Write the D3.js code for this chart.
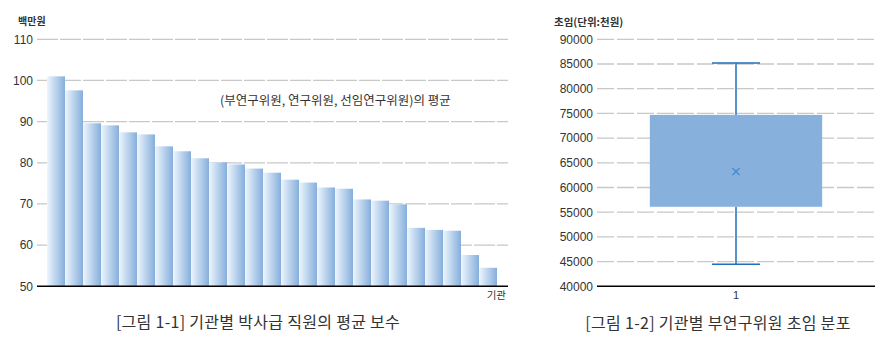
<!DOCTYPE html>
<html><head><meta charset="utf-8">
<script src="https://cdn.jsdelivr.net/npm/d3@7"></script>
<style>
html,body{margin:0;padding:0;background:#fff;}
svg{display:block;}
text{font-family:"Liberation Sans","Noto Sans CJK KR",Arial,sans-serif;fill:#333;}
.kr{font-family:"Noto Sans CJK KR","Liberation Sans",sans-serif;}
</style></head>
<body>
<svg id="c" width="890" height="349"></svg>
<script>
// ---- Data: Figure 1-1 (average pay by institution, million won)
const institutions = d3.range(1, 26).map(i => "기관" + i);
const avgPay = [101.0, 97.6, 89.6, 89.1, 87.4, 86.9, 84.0, 82.8, 81.1, 80.1, 79.6, 78.6, 77.6,
                75.9, 75.2, 74.0, 73.7, 71.1, 70.8, 69.9, 64.2, 63.7, 63.5, 57.6, 54.5];
const leftTicks = [50, 60, 70, 80, 90, 100, 110];

// ---- Data: Figure 1-2 (starting salary distribution, thousand won)
const boxCategories = ["1"];
const boxMin = [44450], boxQ1 = [56100], boxQ3 = [74700], boxMax = [85200], boxMean = [63200];
const rightTicks = [40000, 45000, 50000, 55000, 60000, 65000, 70000, 75000, 80000, 85000, 90000];

const svg = d3.select("#c");
const defs = svg.append("defs");
const grad = defs.append("linearGradient").attr("id", "barGrad")
  .attr("x1", "0%").attr("x2", "100%").attr("y1", "0%").attr("y2", "0%");
grad.append("stop").attr("offset", "0%").attr("stop-color", "#eef6fd");
grad.append("stop").attr("offset", "100%").attr("stop-color", "#86aedc");

// ===== Left chart =====
const x1 = d3.scaleBand().domain(institutions).range([47, 497]).padding(0);
const y1 = d3.scaleLinear().domain([50, 110]).range([286.3, 39.3]);

const gL = svg.append("g");
gL.selectAll("line.grid").data(leftTicks.filter(t => t > 50)).join("line")
  .attr("x1", 37).attr("x2", 508)
  .attr("y1", d => y1(d)).attr("y2", d => y1(d))
  .attr("stroke", "#c8c8c8").attr("stroke-width", 1.3).attr("stroke-dasharray", "21,2");
const yAxisL = d3.axisLeft(y1).tickValues(leftTicks).tickSize(0).tickPadding(0);
const ya = gL.append("g").attr("transform", "translate(33,0)").call(yAxisL);
ya.select(".domain").remove();
ya.selectAll("text").attr("font-size", 12).attr("fill", "#333")
  .style("font-family", '"Liberation Sans",Arial,sans-serif');
gL.selectAll("rect.bar").data(avgPay).join("rect")
  .attr("x", (d, i) => x1(institutions[i]))
  .attr("width", x1.bandwidth())
  .attr("y", d => y1(d))
  .attr("height", d => y1(50) - y1(d))
  .attr("fill", "url(#barGrad)");
gL.append("line").attr("x1", 37).attr("x2", 508).attr("y1", y1(50)).attr("y2", y1(50))
  .attr("stroke", "#000").attr("stroke-width", 1.5);
gL.append("text").attr("class", "kr").attr("x", 18).attr("y", 25).attr("font-size", 10)
  .attr("font-weight", "bold").text("백만원");
gL.append("text").attr("class", "kr").attr("x", 220).attr("y", 105).attr("font-size", 12.5)
  .text("(부연구위원, 연구위원, 선임연구위원)의 평균");
gL.append("text").attr("class", "kr").attr("x", 506).attr("y", 299).attr("font-size", 10.5)
  .attr("text-anchor", "end").text("기관");
gL.append("text").attr("class", "kr").attr("x", 258).attr("y", 328).attr("font-size", 16)
  .attr("letter-spacing", 0.3).attr("text-anchor", "middle").text("[그림 1-1] 기관별 박사급 직원의 평균 보수");

// ===== Right chart =====
const x2 = d3.scaleBand().domain(boxCategories).range([597, 875]).paddingInner(0.38).paddingOuter(0.19);
const y2 = d3.scaleLinear().domain([40000, 90000]).range([286.3, 39.3]);
const gR = svg.append("g");
gR.selectAll("line.grid").data(rightTicks.filter(t => t > 40000)).join("line")
  .attr("x1", 597).attr("x2", 875)
  .attr("y1", d => y2(d)).attr("y2", d => y2(d))
  .attr("stroke", "#c8c8c8").attr("stroke-width", 1.3).attr("stroke-dasharray", "17,3");
const yAxisR = d3.axisLeft(y2).tickValues(rightTicks).tickSize(0).tickPadding(0).tickFormat(d3.format("d"));
const yr = gR.append("g").attr("transform", "translate(593,0)").call(yAxisR);
yr.select(".domain").remove();
yr.selectAll("text").attr("font-size", 12).attr("fill", "#333")
  .style("font-family", '"Liberation Sans",Arial,sans-serif');

boxCategories.forEach((c, i) => {
  const cx = x2(c) + x2.bandwidth() / 2;
  gR.append("line").attr("x1", cx).attr("x2", cx).attr("y1", y2(boxMax[i])).attr("y2", y2(boxQ3[i]))
    .attr("stroke", "#1f6fb8").attr("stroke-width", 1.5);
  gR.append("line").attr("x1", cx).attr("x2", cx).attr("y1", y2(boxQ1[i])).attr("y2", y2(boxMin[i]))
    .attr("stroke", "#1f6fb8").attr("stroke-width", 1.5);
  [boxMax[i], boxMin[i]].forEach(v => {
    gR.append("line").attr("x1", cx - 24).attr("x2", cx + 24).attr("y1", y2(v)).attr("y2", y2(v))
      .attr("stroke", "#1f6fb8").attr("stroke-width", 1.5);
  });
  gR.append("rect").attr("x", x2(c)).attr("width", x2.bandwidth())
    .attr("y", y2(boxQ3[i])).attr("height", y2(boxQ1[i]) - y2(boxQ3[i]))
    .attr("fill", "#87b0dd");
  const my = y2(boxMean[i]);
  gR.append("path").attr("d", `M${cx-3.5},${my-3.5}L${cx+3.5},${my+3.5}M${cx-3.5},${my+3.5}L${cx+3.5},${my-3.5}`)
    .attr("stroke", "#3c84cc").attr("stroke-width", 1.2).attr("fill", "none");
  gR.append("text").attr("x", cx).attr("y", 299).attr("font-size", 11).attr("text-anchor", "middle").text(c);
});
gR.append("line").attr("x1", 597).attr("x2", 875).attr("y1", y2(40000)).attr("y2", y2(40000))
  .attr("stroke", "#000").attr("stroke-width", 1.5);
gR.append("text").attr("class", "kr").attr("x", 554).attr("y", 26).attr("font-size", 10.5)
  .attr("font-weight", "bold").text("초임(단위:천원)");
gR.append("text").attr("class", "kr").attr("x", 718).attr("y", 329).attr("font-size", 16)
  .attr("letter-spacing", 0.3).attr("text-anchor", "middle").text("[그림 1-2] 기관별 부연구위원 초임 분포");
</script>
</body></html>
